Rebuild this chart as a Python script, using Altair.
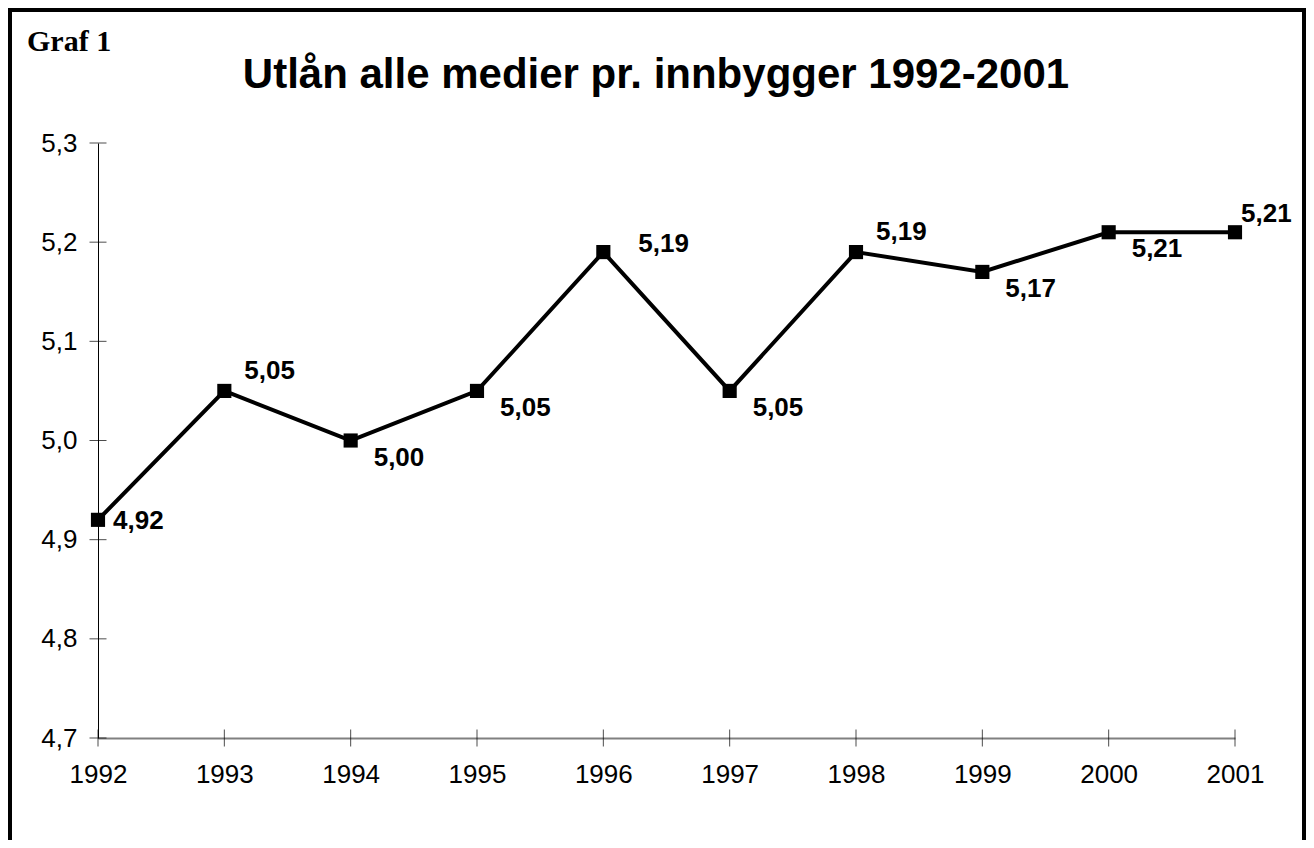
import altair as alt
import pandas as pd

years = [1992, 1993, 1994, 1995, 1996, 1997, 1998, 1999, 2000, 2001]
values = [4.92, 5.05, 5.00, 5.05, 5.19, 5.05, 5.19, 5.17, 5.21, 5.21]
label_place = ["right", "above", "below", "below", "farright", "below", "above", "below", "below", "aboveclose"]
y_ticks = [4.7, 4.8, 4.9, 5.0, 5.1, 5.2, 5.3]

title_text = "Utlån alle medier pr. innbygger 1992-2001"
tag_text = "Graf 1"

df = pd.DataFrame({"year": years, "value": values, "place": label_place})
ticks_df = pd.DataFrame({"v": y_ticks})
years_df = pd.DataFrame({"year": years})

W, H = 1137, 595
PL, PT = 90, 135
TOTAL_W, TOTAL_H = 1298, 832

xs = alt.Scale(domain=[1992, 2001], nice=False, zero=False)
ys = alt.Scale(domain=[4.7, 5.3], nice=False, zero=False)

base = alt.Chart(df)

x_enc = alt.X("year:Q", scale=xs, axis=alt.Axis(
    values=years, format="d", title=None, grid=False, ticks=False,
    domainColor="#808080", domainWidth=2, labelFont="Liberation Sans",
    labelFontSize=26, labelColor="black", labelPadding=23, labelFlush=False))
y_enc = alt.Y("value:Q", scale=ys, axis=alt.Axis(
    values=y_ticks, title=None, grid=False, ticks=False,
    domainColor="black", domainWidth=1, labelFont="Liberation Sans",
    labelFontSize=26, labelColor="black", labelPadding=21, labelFlush=False,
    labelExpr="replace(format(datum.value, '.1f'), '.', ',')"))

line = base.mark_line(color="black", strokeWidth=4).encode(x=x_enc, y=y_enc)
pts = base.mark_square(color="black", size=200, opacity=1).encode(x="year:Q", y="value:Q")

ytick = alt.Chart(ticks_df).mark_tick(color="black", thickness=1, size=17, orient="horizontal").encode(
    y=alt.Y("v:Q", scale=ys), x=alt.value(0))
xtick = alt.Chart(years_df).mark_tick(color="black", thickness=1, size=17, orient="vertical").encode(
    x=alt.X("year:Q", scale=xs), y=alt.value(H))

offsets = {"right": (15, 1), "farright": (35, -8), "above": (20, -20),
           "aboveclose": (6, -18), "below": (23, 17)}
label_layers = []
for place, (dx, dy) in offsets.items():
    label_layers.append(
        base.transform_filter(alt.datum.place == place)
        .transform_calculate(lbl="replace(format(datum.value, '.2f'), '.', ',')")
        .mark_text(align="left", baseline="middle", dx=dx, dy=dy, font="Liberation Sans",
                   fontSize=26, fontWeight="bold", color="black")
        .encode(x="year:Q", y="value:Q", text="lbl:N"))

title = alt.Chart(pd.DataFrame({"t": [title_text]})).mark_text(
    font="Liberation Sans", fontSize=42, fontWeight="bold", color="black",
    align="center", baseline="alphabetic").encode(
    x=alt.value(558), y=alt.value(-55), text="t:N")
tag = alt.Chart(pd.DataFrame({"t": [tag_text]})).mark_text(
    font="Liberation Serif", fontSize=30, fontWeight="bold", color="black",
    align="left", baseline="alphabetic").encode(
    x=alt.value(-71), y=alt.value(-92), text="t:N")

border = alt.Chart(pd.DataFrame({"a": [0]})).mark_rect(
    fill=None, filled=False, stroke="black", strokeWidth=4).encode(
    x=alt.value(-PL + 2), x2=alt.value(TOTAL_W - PL - 2),
    y=alt.value(-PT + 2), y2=alt.value(TOTAL_H - PT + 20))

chart = alt.layer(line, ytick, xtick, pts, *label_layers, title, tag, border).properties(
    width=W, height=H,
    autosize=alt.AutoSizeParams(type="none"),
    padding={"left": PL, "top": PT, "right": TOTAL_W - PL - W, "bottom": TOTAL_H - PT - H},
    background="white",
).configure_view(stroke=None)

chart.save("out.html", embed_options={"renderer": "svg", "actions": False})
